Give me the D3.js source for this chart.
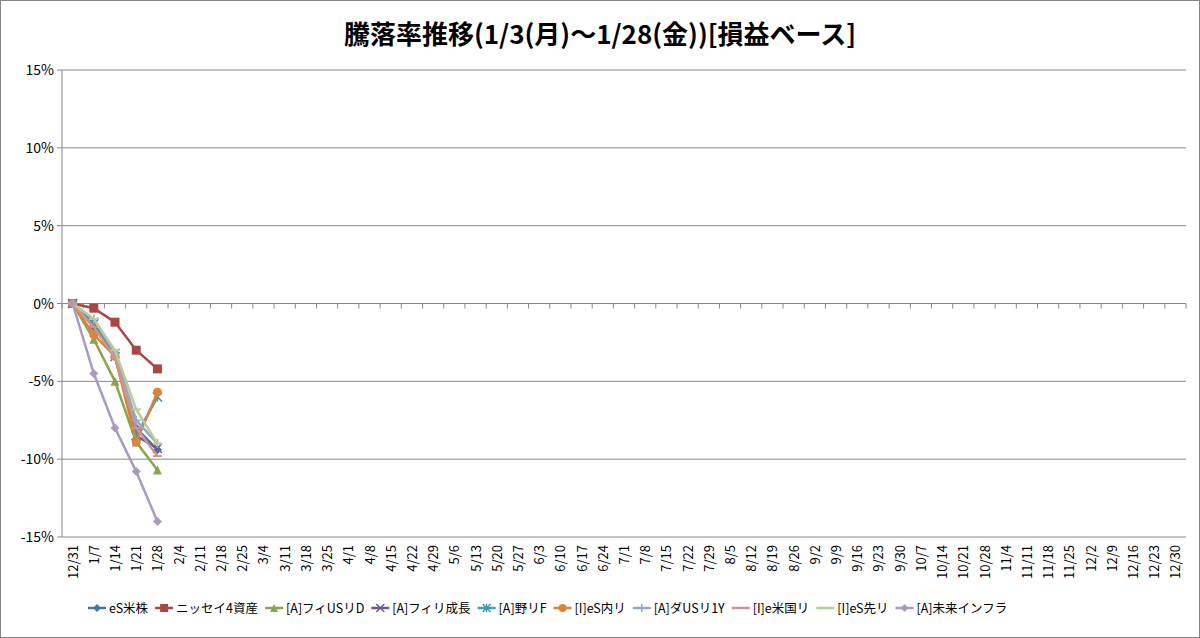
<!DOCTYPE html><html><head><meta charset="utf-8"><script src="https://cdn.jsdelivr.net/npm/d3@7"></script>
<style>body{margin:0;background:#fff}text{font-family:"Noto Sans CJK JP","Noto Sans",sans-serif}</style></head><body><svg id="c" width="1200" height="638"></svg><script>
const xLabels=["12/31","1/7","1/14","1/21","1/28","2/4","2/11","2/18","2/25","3/4","3/11","3/18","3/25","4/1","4/8","4/15","4/22","4/29","5/6","5/13","5/20","5/27","6/3","6/10","6/17","6/24","7/1","7/8","7/15","7/22","7/29","8/5","8/12","8/19","8/26","9/2","9/9","9/16","9/23","9/30","10/7","10/14","10/21","10/28","11/4","11/11","11/18","11/25","12/2","12/9","12/16","12/23","12/30"];
const yTicks=[-15,-10,-5,0,5,10,15];
const seriesNames=["eS米株","ニッセイ4資産","[A]フィUSリD","[A]フィリ成長","[A]野リF","[I]eS内リ","[A]ダUSリ1Y","[I]e米国リ","[I]eS先リ","[A]未来インフラ"];
const colors=["#4572A7","#AA4643","#89A54E","#71588F","#4198AF","#DB843D","#93A9CF","#D19392","#B9CD96","#A99BBD"];
const markers=["diamond","square","triangle","x","star","circle","plus","dash","dash","diamond"];
const v0=[0,-1.5,-3.3,-8.0,-9.4];
const v1=[0,-0.3,-1.2,-3.0,-4.2];
const v2=[0,-2.3,-5.0,-8.9,-10.7];
const v3=[0,-1.3,-3.4,-8.5,-9.3];
const v4=[0,-1.2,-3.2,-8.5,-6.0];
const v5=[0,-2.0,-3.4,-8.9,-5.7];
const v6=[0,-1.0,-3.2,-7.5,-9.0];
const v7=[0,-1.5,-3.5,-8.0,-9.8];
const v8=[0,-1.0,-3.0,-6.8,-9.0];
const v9=[0,-4.5,-8.0,-10.8,-14.0];
const values=[v0,v1,v2,v3,v4,v5,v6,v7,v8,v9];
const svg=d3.select("#c");
const L=62,R=1186,T=70,B=537;
svg.append("rect").attr("x",0.5).attr("y",0.5).attr("width",1199).attr("height",637).attr("fill","#fff").attr("stroke","#888");
svg.append("text").attr("x",600).attr("y",44).attr("text-anchor","middle").attr("font-size",26).attr("font-weight","bold").text("騰落率推移(1/3(月)～1/28(金))[損益ベース]");
const x=d3.scaleBand().domain(xLabels).range([L,R]);
const y=d3.scaleLinear().domain([-15,15]).range([B,T]);
svg.append("g").selectAll("line").data(yTicks).join("line").attr("x1",L).attr("x2",R).attr("y1",d=>y(d)).attr("y2",d=>y(d)).attr("stroke","#888");
svg.append("line").attr("x1",L).attr("x2",L).attr("y1",T).attr("y2",B).attr("stroke","#888");
svg.append("g").selectAll("line").data(yTicks).join("line").attr("x1",L-5).attr("x2",L).attr("y1",d=>y(d)).attr("y2",d=>y(d)).attr("stroke","#888");
svg.append("g").selectAll("text").data(yTicks).join("text").attr("x",L-8).attr("y",d=>y(d)+5).attr("text-anchor","end").attr("font-size",14).text(d=>d+"%");
const y0=y(0);
svg.append("g").selectAll("line").data(d3.range(xLabels.length+1)).join("line").attr("x1",i=>L+i*x.step()).attr("x2",i=>L+i*x.step()).attr("y1",y0).attr("y2",y0+5).attr("stroke","#888");
svg.append("g").selectAll("text").data(xLabels).join("text").attr("transform",d=>`translate(${x(d)+x.bandwidth()/2+5},${B+8}) rotate(-90)`).attr("text-anchor","end").attr("font-size",13).text(d=>d);
const line=d3.line().x((d,i)=>x(xLabels[i])+x.bandwidth()/2).y(d=>y(d));
function marker(g,type,c,cx,cy,s){
 if(type==="diamond")g.append("path").attr("d",`M${cx},${cy-s}L${cx+s},${cy}L${cx},${cy+s}L${cx-s},${cy}Z`).attr("fill",c);
 else if(type==="square")g.append("rect").attr("x",cx-s).attr("y",cy-s).attr("width",2*s).attr("height",2*s).attr("fill",c);
 else if(type==="triangle")g.append("path").attr("d",`M${cx},${cy-s}L${cx+s},${cy+s}L${cx-s},${cy+s}Z`).attr("fill",c);
 else if(type==="circle")g.append("circle").attr("cx",cx).attr("cy",cy).attr("r",s).attr("fill",c);
 else if(type==="x")g.append("path").attr("d",`M${cx-s},${cy-s}L${cx+s},${cy+s}M${cx-s},${cy+s}L${cx+s},${cy-s}`).attr("stroke",c).attr("stroke-width",1.5);
 else if(type==="star")g.append("path").attr("d",`M${cx-s},${cy-s}L${cx+s},${cy+s}M${cx-s},${cy+s}L${cx+s},${cy-s}M${cx},${cy-s}L${cx},${cy+s}`).attr("stroke",c).attr("stroke-width",1.5);
 else if(type==="plus")g.append("path").attr("d",`M${cx-s},${cy}L${cx+s},${cy}M${cx},${cy-s}L${cx},${cy+s}`).attr("stroke",c).attr("stroke-width",1.5);
 else if(type==="dash")g.append("path").attr("d",`M${cx-s},${cy}L${cx+s},${cy}`).attr("stroke",c).attr("stroke-width",2);
}
values.forEach((vals,k)=>{
 const g=svg.append("g");
 g.append("path").attr("d",line(vals)).attr("fill","none").attr("stroke",colors[k]).attr("stroke-width",2.5);
 vals.forEach((v,i)=>marker(g,markers[k],colors[k],x(xLabels[i])+x.bandwidth()/2,y(v),4.5));
});
// legend
const widths=[88,118,112,108,90,90,110,100,92,122];
let lx=88;
seriesNames.forEach((n,k)=>{
 const g=svg.append("g");
 g.append("line").attr("x1",lx).attr("x2",lx+18).attr("y1",608).attr("y2",608).attr("stroke",colors[k]).attr("stroke-width",2.5);
 marker(g,markers[k],colors[k],lx+9,608,4);
 const t=g.append("text").attr("x",lx+21).attr("y",613).attr("font-size",12.5).text(n);
 lx+=t.node().getComputedTextLength()+28;
});
</script></body></html>
